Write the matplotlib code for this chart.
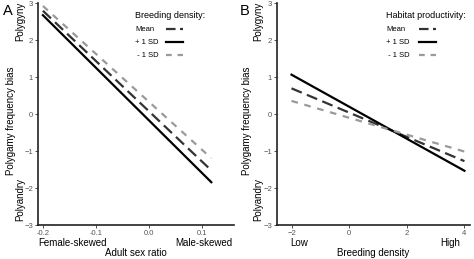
import numpy as np
import matplotlib.pyplot as plt

plt.rcParams['font.family'] = ['Liberation Sans', 'DejaVu Sans']

# Panel A: adult sex ratio vs polygamy bias, by breeding density
asr_x = [-0.2, 0.117]
asr_mean = [2.80, -1.52]
asr_plus = [2.68, -1.84]
asr_minus = [2.93, -1.19]

# Panel B: breeding density vs polygamy bias, by habitat productivity
dens_x = [-2.0, 4.0]
dens_mean = [0.70, -1.27]
dens_plus = [1.07, -1.53]
dens_minus = [0.36, -1.01]

yticks = [-3, -2, -1, 0, 1, 2, 3]
series_labels = ['Mean', '+ 1 SD', ' - 1 SD']

GREY = '#9a9a9a'
TICKC = '#555555'
STYLES = [dict(color='#333333', lw=1.6, dashes=(5, 2.5)),
          dict(color='black', lw=1.6),
          dict(color=GREY, lw=1.6, dashes=(3, 3))]
# shorter dash patterns so the legend samples show whole dashes
LEG_STYLES = [dict(color='#333333', lw=1.6, dashes=(4.3, 2.0)),
              dict(color='black', lw=1.6),
              dict(color=GREY, lw=1.6, dashes=(2.6, 2.6))]

fig = plt.figure(figsize=(4.74, 2.59), dpi=100)
axA = fig.add_axes([0.080, 0.131, 0.414, 0.856])
axB = fig.add_axes([0.584, 0.131, 0.408, 0.856])


def style_axis(ax, xlab, xmain):
    ax.spines['top'].set_visible(False)
    ax.spines['right'].set_visible(False)
    for s in ('left', 'bottom'):
        ax.spines[s].set_color('#222222')
        ax.spines[s].set_linewidth(1.2)
    ax.set_ylim(-3, 3)
    ax.set_yticks(yticks)
    ax.tick_params(axis='both', labelsize=5.5, labelcolor=TICKC, color='#333333',
                   length=2, width=0.6, pad=1.5)
    ax.text(xmain, 0.47, 'Polygamy frequency bias', transform=ax.transAxes,
            rotation=90, ha='center', va='center', fontsize=7)
    ax.text(xlab, 0.92, 'Polygyny', transform=ax.transAxes,
            rotation=90, ha='center', va='center', fontsize=7)
    ax.text(xlab, 0.115, 'Polyandry', transform=ax.transAxes,
            rotation=90, ha='center', va='center', fontsize=7)


def add_lines(ax, x, mean, plus, minus, title, tx, hx0, hx1):
    for ys, st in zip([mean, plus, minus], STYLES):
        ax.plot(x, ys, **st)
    # legend: title, then label on the left and line sample on the right
    ax.text(tx, 0.947, title, transform=ax.transAxes, ha='left', va='center',
            fontsize=6.5)
    for i, (lab, st) in enumerate(zip(series_labels, LEG_STYLES)):
        yy = 0.884 - i * 0.0585
        ax.text(tx, yy, lab, transform=ax.transAxes, ha='left', va='center',
                fontsize=5.5)
        ax.plot([hx0, hx1], [yy, yy], transform=ax.transAxes, **st)


style_axis(axA, -0.09, -0.135)
add_lines(axA, asr_x, asr_mean, asr_plus, asr_minus, 'Breeding density:',
          0.495, 0.653, 0.74)
axA.set_xlim(-0.2094, 0.16)
axA.set_xticks([-0.2, -0.1, 0.0, 0.1])
axA.set_xticklabels(['-0.2', '-0.1', '0.0', '0.1'])
axA.text(0.0, -0.081, 'Female-skewed', transform=axA.transAxes, ha='left',
         va='center', fontsize=7)
axA.text(0.99, -0.081, 'Male-skewed', transform=axA.transAxes, ha='right',
         va='center', fontsize=7)
axA.text(0.5, -0.126, 'Adult sex ratio', transform=axA.transAxes, ha='center',
         va='center', fontsize=7)

style_axis(axB, -0.096, -0.152)
add_lines(axB, dens_x, dens_mean, dens_plus, dens_minus, 'Habitat productivity:',
          0.565, 0.736, 0.824)
axB.set_xlim(-2.51, 4.2)
axB.set_xticks([-2, 0, 2, 4])
axB.text(0.067, -0.081, 'Low', transform=axB.transAxes, ha='left',
         va='center', fontsize=7)
axB.text(0.95, -0.081, 'High', transform=axB.transAxes, ha='right',
         va='center', fontsize=7)
axB.text(0.5, -0.126, 'Breeding density', transform=axB.transAxes, ha='center',
         va='center', fontsize=7)

fig.text(0.006, 0.985, 'A', fontsize=10.5, va='top')
fig.text(0.506, 0.985, 'B', fontsize=10.5, va='top')

fig.savefig('out.png', dpi=100)
